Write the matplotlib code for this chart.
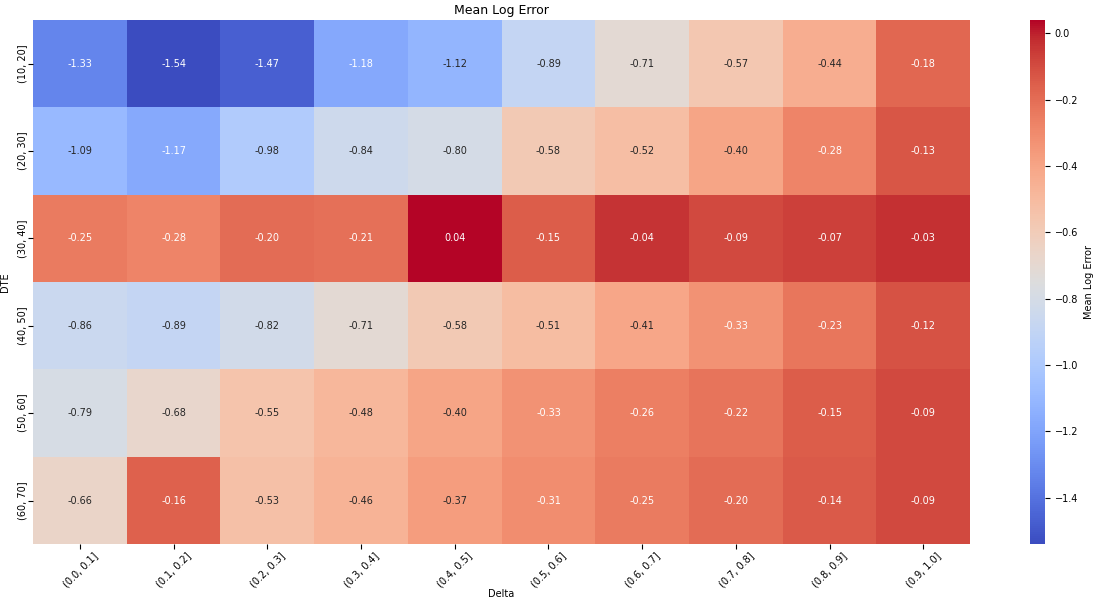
import matplotlib
matplotlib.use("Agg")
import matplotlib.pyplot as plt
import seaborn as sns
import pandas as pd

dte_labels = ["(10, 20]", "(20, 30]", "(30, 40]", "(40, 50]", "(50, 60]", "(60, 70]"]
delta_labels = ["(0.0, 0.1]", "(0.1, 0.2]", "(0.2, 0.3]", "(0.3, 0.4]", "(0.4, 0.5]",
                "(0.5, 0.6]", "(0.6, 0.7]", "(0.7, 0.8]", "(0.8, 0.9]", "(0.9, 1.0]"]

row_10_20 = [-1.33, -1.54, -1.47, -1.18, -1.12, -0.89, -0.71, -0.57, -0.44, -0.18]
row_20_30 = [-1.09, -1.17, -0.98, -0.84, -0.80, -0.58, -0.52, -0.40, -0.28, -0.13]
row_30_40 = [-0.25, -0.28, -0.20, -0.21, 0.04, -0.15, -0.04, -0.09, -0.07, -0.03]
row_40_50 = [-0.86, -0.89, -0.82, -0.71, -0.58, -0.51, -0.41, -0.33, -0.23, -0.12]
row_50_60 = [-0.79, -0.68, -0.55, -0.48, -0.40, -0.33, -0.26, -0.22, -0.15, -0.09]
row_60_70 = [-0.66, -0.16, -0.53, -0.46, -0.37, -0.31, -0.25, -0.20, -0.14, -0.09]

df = pd.DataFrame([row_10_20, row_20_30, row_30_40, row_40_50, row_50_60, row_60_70],
                  index=dte_labels, columns=delta_labels)

fig = plt.figure(figsize=(11, 6.02), dpi=100)
ax = fig.add_axes([0.03, 0.096, 0.852, 0.871])
cax = fig.add_axes([0.936, 0.096, 0.014, 0.871])
sns.heatmap(df, annot=True, fmt=".2f", cmap="coolwarm", ax=ax, cbar_ax=cax,
            annot_kws={"size": 7}, cbar_kws={"label": "Mean Log Error"})
ax.set_title("Mean Log Error", fontsize=9, pad=4)
ax.tick_params(labelsize=7, pad=1)
plt.setp(ax.get_xticklabels(), rotation=45)
plt.setp(ax.get_yticklabels(), rotation=90, va="center")
ax.set_xlabel("Delta", fontsize=7, labelpad=0)
ax.set_ylabel("DTE", fontsize=7, labelpad=1)
ax.xaxis.set_label_coords(0.5, -0.085)
ax.yaxis.set_label_coords(-0.025, 0.5)
cax.tick_params(labelsize=7)
cax.yaxis.label.set_size(7)
fig.savefig("out.png")
